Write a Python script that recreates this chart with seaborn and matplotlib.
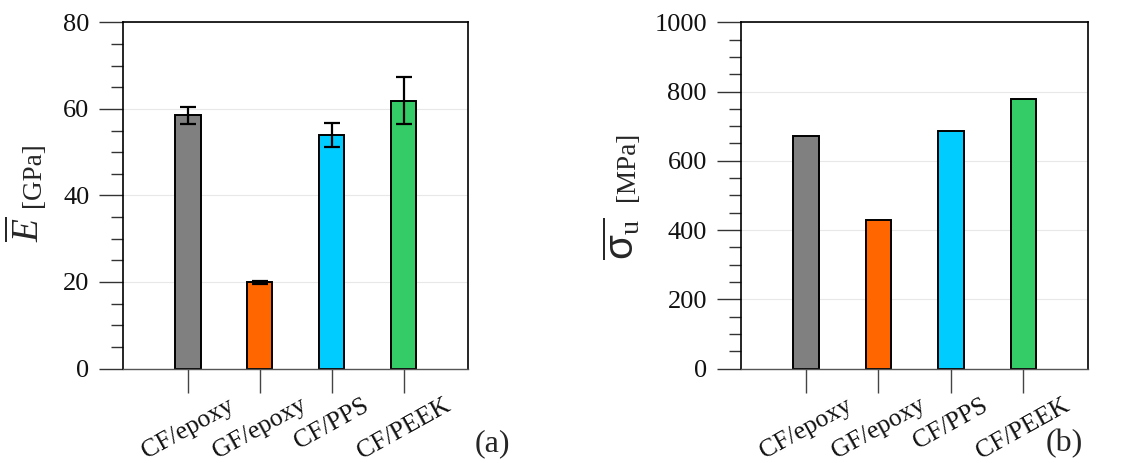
import matplotlib
matplotlib.use("Agg")
import matplotlib.pyplot as plt
from matplotlib.ticker import MultipleLocator
import seaborn as sns

# values
categories = ["CF/epoxy", "GF/epoxy", "CF/PPS", "CF/PEEK"]
modulus = [58.5, 19.9, 54.0, 61.9]          # GPa
modulus_err = [2.0, 0.3, 2.7, 5.5]
strength = [671, 429, 685, 778]             # MPa
colors = ["#808080", "#FF6600", "#00CCFF", "#33CC66"]

sns.set_style("ticks")
plt.rcParams["font.family"] = ["Liberation Serif", "DejaVu Serif"]
plt.rcParams["mathtext.fontset"] = "custom"
plt.rcParams["mathtext.rm"] = "Liberation Serif"
plt.rcParams["mathtext.it"] = "Liberation Serif:italic"
plt.rcParams["mathtext.sf"] = "Liberation Sans"

fig = plt.figure(figsize=(11.37, 4.63), dpi=100)
ax1 = fig.add_axes([0.1085, 0.204, 0.3034, 0.7478])
ax2 = fig.add_axes([0.6517, 0.204, 0.3055, 0.7478])


def style_axis(ax, ymax, major, minor):
    ax.set_ylim(0, ymax)
    ax.set_xlim(-0.9, 3.9)
    ax.yaxis.set_major_locator(MultipleLocator(major))
    ax.yaxis.set_minor_locator(MultipleLocator(minor))
    ax.set_axisbelow(True)
    ax.yaxis.grid(True, which="major", color="#e8e8e8", lw=0.8)
    for side in ["top", "right", "left"]:
        ax.spines[side].set_color("black")
        ax.spines[side].set_linewidth(1.2)
    ax.spines["bottom"].set_color("#555555")
    ax.spines["bottom"].set_linewidth(1.0)
    ax.tick_params(axis="y", which="major", direction="out", length=17.5,
                   width=1.0, color="#333333", labelsize=19, pad=7,
                   labelcolor="#111111")
    ax.tick_params(axis="y", which="minor", direction="out", length=9,
                   width=1.0, color="#333333")
    ax.tick_params(axis="x", direction="out", length=17.5, width=1.0,
                   color="#444444", labelsize=18.5, pad=1, labelcolor="#111111")
    ax.set_xlabel("")
    ax.set_ylabel("")
    for lab in ax.get_xticklabels():
        lab.set_rotation(29)
        lab.set_ha("center")


# (a) elastic modulus
sns.barplot(x=categories, y=modulus, hue=categories, palette=colors,
            legend=False, width=0.35, edgecolor="black", linewidth=1.4,
            saturation=1, ax=ax1)
ax1.errorbar(range(len(categories)), modulus, yerr=modulus_err, fmt="none",
             ecolor="black", elinewidth=1.6, capsize=5.8, capthick=1.6)
style_axis(ax1, 80, 20, 5)

# (b) ultimate strength
sns.barplot(x=categories, y=strength, hue=categories, palette=colors,
            legend=False, width=0.35, edgecolor="black", linewidth=1.4,
            saturation=1, ax=ax2)
style_axis(ax2, 1000, 200, 50)

# y labels built from pieces so the symbol can be larger than the unit
fig.text(28 / 1137, 1 - 229 / 463, r"$\overline{E}$", rotation=90,
         ha="center", va="center", fontsize=27)
fig.text(33 / 1137, 1 - 175 / 463, "[GPa]", rotation=90,
         ha="center", va="center", fontsize=19.5)
fig.text(622 / 1137, 1 - 239 / 463, r"$\overline{\mathsf{\sigma}_{\mathrm{u}}}$",
         rotation=90, ha="center", va="center", fontsize=29)
fig.text(627 / 1137, 1 - 166 / 463, "[MPa]", rotation=90,
         ha="center", va="center", fontsize=19.5)

fig.text(492 / 1137, 1 - 444 / 463, "(a)", ha="center", va="center", fontsize=23)
fig.text(1064 / 1137, 1 - 444 / 463, "(b)", ha="center", va="center", fontsize=23)

fig.savefig("out.png", dpi=100)
